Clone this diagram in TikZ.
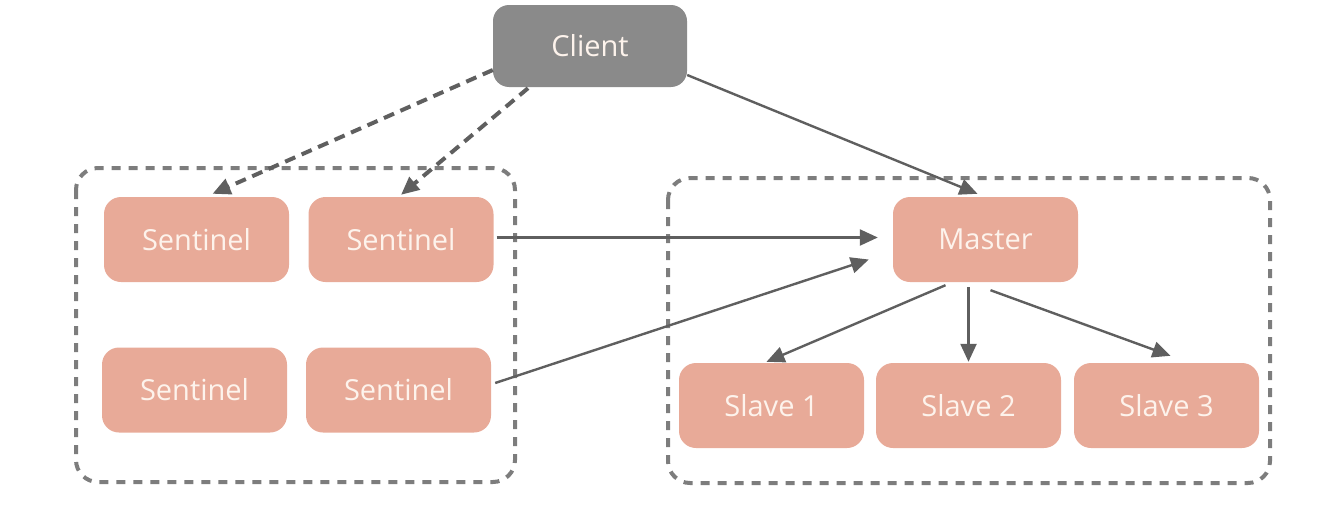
\documentclass[tikz,border=0pt]{standalone}
\usepackage{fontspec}
\setmainfont{Open Sans}
\usetikzlibrary{arrows.meta,calc}
\definecolor{salmon}{RGB}{232,170,152}
\definecolor{clientgray}{RGB}{138,138,138}
\definecolor{dashgray}{RGB}{125,125,125}
\definecolor{arrowgray}{RGB}{95,95,95}
\definecolor{txt}{RGB}{253,243,236}
\tikzset{
  box/.style={fill=salmon, rounded corners=17pt, minimum width=185pt, minimum height=85pt, inner sep=0pt, text=txt, font=\fontsize{29}{33}\selectfont},
  clientbox/.style={fill=clientgray, rounded corners=16pt, minimum width=194pt, minimum height=82pt, inner sep=0pt, text=txt, font=\fontsize{29}{33}\selectfont},
  group/.style={draw=dashgray, line width=4pt, dash pattern=on 9pt off 8pt, rounded corners=22pt},
  link/.style={draw=arrowgray, line width=2.4pt, -{Triangle[length=18pt,width=16pt]}},
  dlink/.style={link, dash pattern=on 11pt off 7pt, line width=4pt},
}
\begin{document}
\begin{tikzpicture}[x=1pt,y=-1pt]
\useasboundingbox (0,0) rectangle (1320,522);
% groups
\draw[group] (76,168) rectangle (515,482);
\draw[group] (668,178) rectangle (1270,483);
% nodes
\node[clientbox] (client) at (590,46) {Client};
\node[box] (s1) at (196.5,239.5) {Sentinel};
\node[box] (s2) at (401,239.5) {Sentinel};
\node[box] (s3) at (194.5,390) {Sentinel};
\node[box] (s4) at (398.5,390) {Sentinel};
\node[box] (master) at (985.5,239.5) {Master};
\node[box] (sl1) at (771.5,405.5) {Slave 1};
\node[box] (sl2) at (968.5,405.5) {Slave 2};
\node[box] (sl3) at (1166.5,405.5) {Slave 3};
% connectors
\draw[dlink] ($(client.west)+(0,24)$) -- ($(s1.north)+(16,-3)$);
\draw[dlink] ($(client.south)+(-62,1)$) -- ($(s2.north)+(0,-2)$);
\draw[link] ($(client.east)+(0,29)$) -- ($(master.north)+(-8,-3)$);
\draw[link] ($(s2.east)+(3,-2)$) -- ($(master.west)+(-15,-2)$);
\draw[link] ($(s4.east)+(4,-7)$) -- ($(master.west)+(-24,20)$);
\draw[link] ($(master.south)+(-40,3)$) -- ($(sl1.north)+(-5,-1)$);
\draw[link] ($(master.south)+(-17,5)$) -- ($(sl2.north)+(0,-1)$);
\draw[link] ($(master.south)+(5,8)$) -- ($(sl3.north)+(4,-7)$);
\end{tikzpicture}
\end{document}
